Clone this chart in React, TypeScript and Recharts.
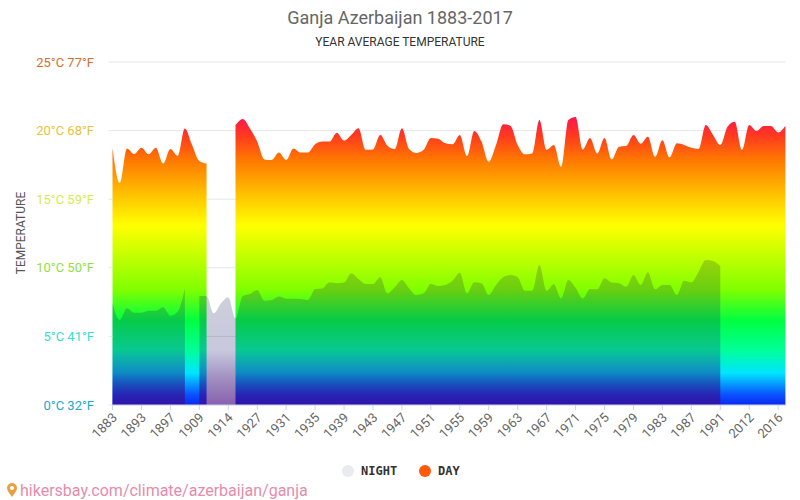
import React from "react";
import { AreaChart, Area, XAxis, YAxis, CartesianGrid, Legend } from "recharts";

const years = [
  "1883","1884","1885","1892","1893","1894","1895","1896","1897","1898","1899","1900","1909","1910","1911","1912","1914",
  "1924","1925","1926","1927","1928","1929","1930","1931","1932","1933","1934","1935","1936","1937","1938","1939","1940",
  "1941","1942","1943","1944","1945","1946","1947","1948","1949","1950","1951","1952","1953","1954","1955","1956","1957",
  "1958","1959","1960","1961","1962","1963","1964","1965","1966","1967","1968","1969","1970","1971","1972","1973","1974",
  "1975","1976","1977","1978","1979","1980","1981","1982","1983","1984","1985","1986","1987","1988","1989","1990","1991",
  "2009","2010","2011","2012","2013","2014","2015","2016","2017",
];

const dayValues: (number | null)[] = [
  18.73,16.2,18.7,18.3,18.75,18.27,18.75,17.6,18.66,18.17,20.16,18.95,17.78,17.6,null,null,null,
  20.4,20.85,20.16,19.2,17.9,17.86,18.4,17.86,18.7,18.4,18.4,19.0,19.2,19.2,19.85,19.27,19.68,
  20.17,18.6,18.63,19.68,18.9,18.66,20.17,18.66,18.37,18.6,19.46,19.4,19.07,19.0,19.68,18.15,19.97,
  19.2,17.73,18.95,20.46,20.36,18.95,18.27,18.34,20.77,18.6,18.95,17.37,20.77,21.0,18.63,19.46,18.34,
  19.46,17.9,18.83,18.88,19.68,19.05,19.56,18.1,19.3,18.05,19.07,18.95,18.75,18.66,20.4,19.68,18.95,
  20.28,20.65,18.6,20.4,19.97,20.33,20.33,19.87,20.36,
];

const nightValues: (number | null)[] = [
  7.41,6.2,7.05,6.73,6.73,6.87,6.87,7.12,6.51,6.8,8.5,null,7.95,7.95,6.68,7.41,7.85,
  6.32,7.95,8.09,8.38,7.6,7.65,7.9,7.75,7.75,7.73,7.65,8.45,8.5,8.94,8.87,8.92,9.6,
  9.18,8.82,8.82,9.31,8.14,8.58,9.11,8.5,8.02,8.14,8.82,8.67,8.75,9.06,9.64,8.14,8.94,
  8.87,8.02,8.75,9.31,9.48,9.31,8.33,8.33,10.2,8.33,8.8,7.77,9.11,8.55,7.77,8.45,8.43,
  9.23,8.92,8.87,8.62,9.48,8.75,9.67,8.43,8.75,8.75,8.02,9.06,8.94,9.72,10.57,10.5,10.13,
  null,null,null,null,null,null,null,null,null,
];

const tempTicks = [0, 5, 10, 15, 20, 25];
const tempLabels: Record<number, string> = {
  0: "0°C 32°F", 5: "5°C 41°F", 10: "10°C 50°F", 15: "15°C 59°F", 20: "20°C 68°F", 25: "25°C 77°F",
};
const tempColors: Record<number, string> = {
  0: "#1ca8cc", 5: "#33dfd0", 10: "#8fe04a", 15: "#d8ea50", 20: "#e8c23c", 25: "#d6702e",
};

const tableData = years.map((year, i) => ({ year, day: dayValues[i], night: nightValues[i] }));

const dayStops: [number, string][] = [
  [0, "#ff1450"], [0.066, "#ff3a1e"], [0.152, "#ff7a00"], [0.273, "#ffc400"], [0.377, "#ffff00"],
  [0.6, "#80ff00"], [0.706, "#00ff40"], [0.81, "#00ff99"], [0.889, "#00e5ff"], [0.965, "#0a50ff"], [1, "#0a28f0"],
];
const nightStops: [number, string, number][] = [
  [0, "#000032", 0.17], [0.62, "#23237b", 0.25], [0.79, "#24006e", 0.41], [1, "#480683", 0.64],
];

const FONT = "Roboto, sans-serif";

const XTick = (props: any) => (
  <text
    x={props.x + 3}
    y={props.y + 4}
    fill="#666666"
    fontFamily={FONT}
    fontSize={13}
    textAnchor="end"
    dominantBaseline="middle"
    transform={`rotate(-45 ${props.x + 3} ${props.y + 4})`}
  >
    {props.payload.value}
  </text>
);

const YTick = (props: any) => (
  <text x={props.x - 0.5} y={props.y + 4.5} fill={tempColors[props.payload.value]} fontFamily={FONT} fontSize={13} textAnchor="end">
    {tempLabels[props.payload.value]}
  </text>
);

const LegendBox = () => (
  <svg width={800} height={30} style={{ position: "absolute", left: 0, top: 0, overflow: "visible" }}>
    <circle cx={348} cy={11} r={6} fill="#e9ebf0" />
    <text x={361} y={15} fontFamily="'DejaVu Sans Mono', monospace" fontWeight="bold" fontSize={12} fill="#333333">NIGHT</text>
    <circle cx={425} cy={11} r={6} fill="#ff5a0a" />
    <text x={438} y={15} fontFamily="'DejaVu Sans Mono', monospace" fontWeight="bold" fontSize={12} fill="#333333">DAY</text>
  </svg>
);

export default function App() {
  return (
    <div style={{ position: "absolute", left: 0, top: 0, width: 800, height: 500, background: "#fff", overflow: "hidden" }}>
      <AreaChart width={800} height={500} data={tableData} margin={{ top: 62, right: 14.6, bottom: 0, left: 0 }}>
        <defs>
          <linearGradient id="dayFill" x1="0" y1="0" x2="0" y2="1">
            {dayStops.map(([o, c]) => <stop key={o} offset={o} stopColor={c} />)}
          </linearGradient>
          <linearGradient id="nightFill" x1="0" y1="0" x2="0" y2="1">
            {nightStops.map(([o, c, a]) => <stop key={o} offset={o} stopColor={c} stopOpacity={a} />)}
          </linearGradient>
        </defs>
        <CartesianGrid vertical={false} stroke="#e6e6e6" />
        <XAxis
          dataKey="year"
          interval={3}
          height={95}
          tick={<XTick />}
          tickSize={5}
          tickLine={{ stroke: "#ccd6eb" }}
          axisLine={{ stroke: "#ccd6eb" }}
        />
        <YAxis
          width={112.5}
          domain={[0, 25]}
          ticks={tempTicks}
          tick={<YTick />}
          tickSize={4}
          tickMargin={14}
          tickLine={{ stroke: "#e6e6e6" }}
          axisLine={false}
          label={{
            content: () => (
              <text x={22} y={233} fontFamily={FONT} fontSize={12} fill="#555555" textAnchor="middle" dominantBaseline="middle" transform="rotate(-90 22 233)">
                TEMPERATURE
              </text>
            ),
          }}
        />
        <Legend content={<LegendBox />} wrapperStyle={{ left: 0, top: 460, width: 800, height: 0 }} />
        <Area type="monotone" dataKey="day" name="DAY" stroke="none" fill="url(#dayFill)" fillOpacity={1} isAnimationActive={false} dot={false} activeDot={false} />
        <Area type="monotone" dataKey="night" name="NIGHT" stroke="none" fill="url(#nightFill)" fillOpacity={1} isAnimationActive={false} dot={false} activeDot={false} />
      </AreaChart>
      <svg width={800} height={500} style={{ position: "absolute", left: 0, top: 0, pointerEvents: "none" }}>
        <text x={400} y={24} textAnchor="middle" fontFamily={FONT} fontSize={18} fill="#666666">Ganja Azerbaijan 1883-2017</text>
        <text x={400} y={46} textAnchor="middle" fontFamily={FONT} fontSize={12} fill="#333333">YEAR AVERAGE TEMPERATURE</text>
        <path d="M12 483 a5 5 0 0 1 5 5 c0 3 -3 6 -5 9 c-2 -3 -5 -6 -5 -9 a5 5 0 0 1 5 -5 z" fill="#e8a040" />
        <circle cx={12} cy={488} r={2} fill="#ffffff" />
        <text x={20} y={495.5} fontFamily={FONT} fontSize={16} fill="#e58cab">hikersbay.com/climate/azerbaijan/ganja</text>
      </svg>
    </div>
  );
}
